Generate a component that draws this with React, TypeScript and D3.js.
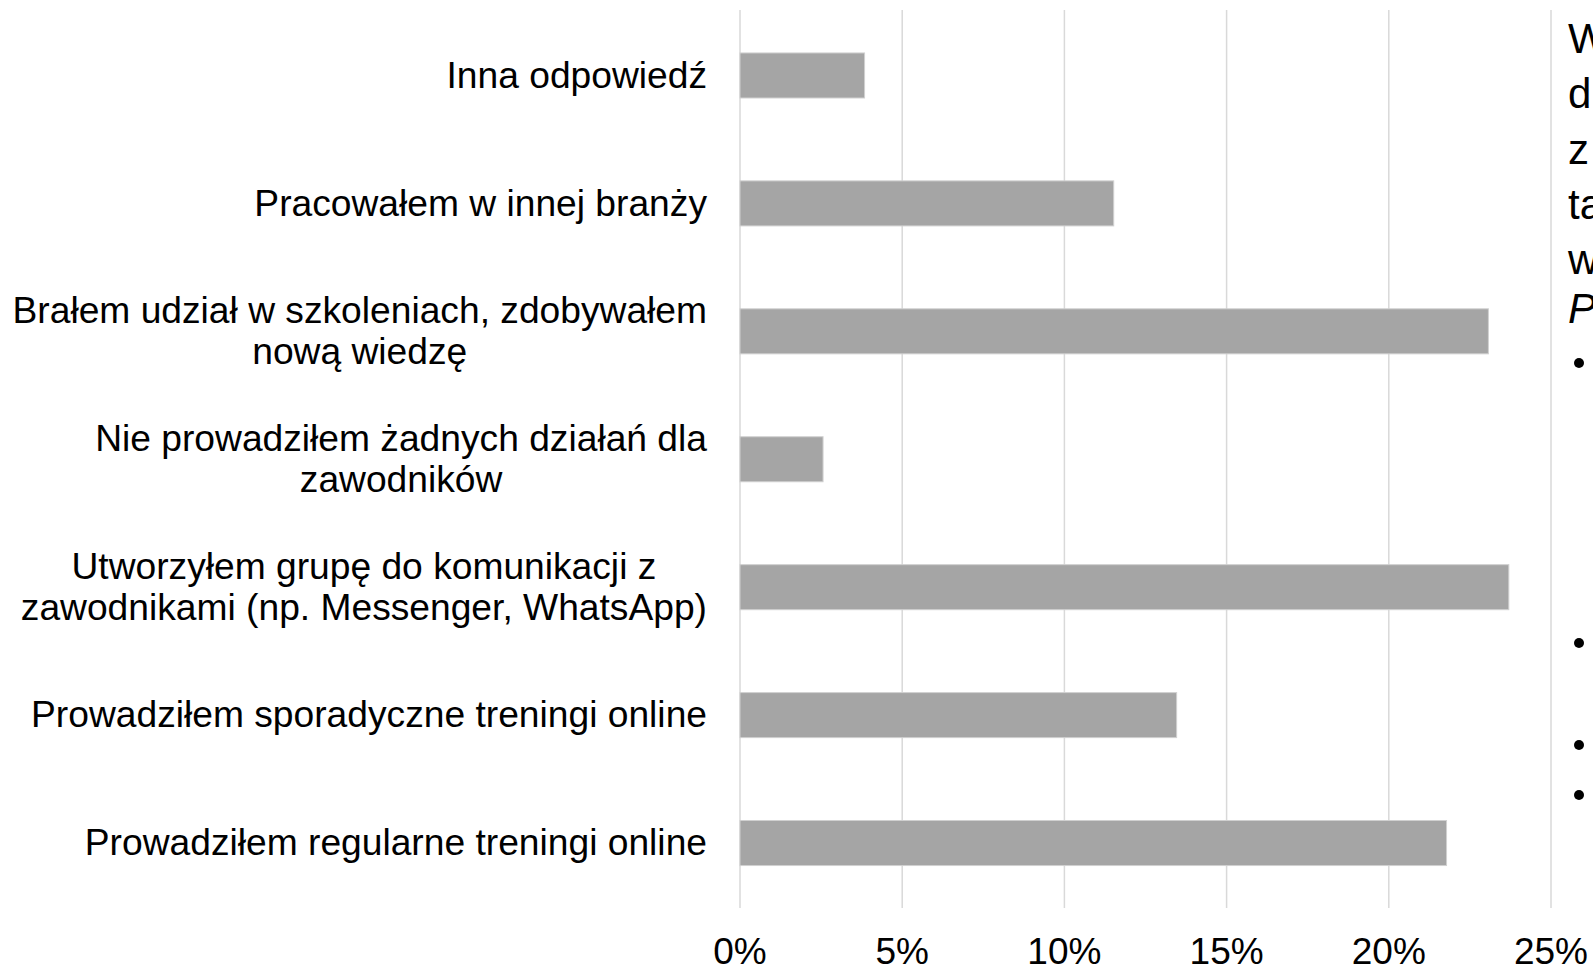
import React from "react";
import * as d3 from "d3";

const categories = [
  ["Inna odpowiedź"],
  ["Pracowałem w innej branży"],
  ["Brałem udział w szkoleniach, zdobywałem", "nową wiedzę"],
  ["Nie prowadziłem żadnych działań dla", "zawodników"],
  ["Utworzyłem grupę do komunikacji z", "zawodnikami (np. Messenger, WhatsApp)"],
  ["Prowadziłem sporadyczne treningi online"],
  ["Prowadziłem regularne treningi online"],
];
const values = [0.0384, 0.1152, 0.2307, 0.0256, 0.237, 0.1346, 0.2178];
const ticks = [0, 0.05, 0.1, 0.15, 0.2, 0.25];
const sideLines = ["W", "d", "z", "ta", "w"];
const sideItalic = "P";
const bulletYs = [363, 643, 745, 795];

const W = 1593;
const H = 968;
const FONT = "'Liberation Sans', Arial, sans-serif";
const LABEL_SIZE = 37.2;

function measure(text: string, size: number): number {
  if (typeof document === "undefined") return text.length * size * 0.5;
  const c = document.createElement("canvas");
  const ctx = c.getContext("2d");
  if (!ctx) return text.length * size * 0.5;
  ctx.font = `${size}px ${FONT}`;
  return ctx.measureText(text).width;
}

export default function App() {
  const x = d3.scaleLinear().domain([0, 0.25]).range([740, 1551]);
  const ids = categories.map((_, i) => String(i));
  const y = d3
    .scaleBand<string>()
    .domain(ids)
    .range([11.5, 907])
    .paddingInner(0.648)
    .paddingOuter(0.324);
  const fmt = d3.format(".0%");
  const labelRight = 707;
  return (
    <svg
      width={W}
      height={H}
      style={{ position: "fixed", left: 0, top: 0, background: "#fff" }}
      fontFamily={FONT}
    >
      <rect x={0} y={0} width={W} height={H} fill="#fff" />
      {ticks.map((t) => (
        <line
          key={"g" + t}
          x1={x(t)}
          x2={x(t)}
          y1={10}
          y2={908}
          stroke="#d9d9d9"
          strokeWidth={1.5}
        />
      ))}
      {values.map((v, i) => (
        <rect
          key={"b" + i}
          x={x(0)}
          y={y(ids[i])!}
          width={x(v) - x(0)}
          height={y.bandwidth()}
          fill="#a5a5a5"
          stroke="#d0d0d0"
          strokeWidth={1}
        />
      ))}
      {categories.map((lines, i) => {
        const cy = y(ids[i])! + y.bandwidth() / 2;
        const lh = 40.6;
        const start = cy - ((lines.length - 1) * lh) / 2;
        const maxW = Math.max(...lines.map((l) => measure(l, LABEL_SIZE)));
        const cx = labelRight - maxW / 2;
        return (
          <text
            key={"l" + i}
            x={cx}
            textAnchor="middle"
            fontSize={LABEL_SIZE}
            fill="#000"
          >
            {lines.map((ln, j) => (
              <tspan key={j} x={cx} y={start + j * lh} dy="0.33em">
                {ln}
              </tspan>
            ))}
          </text>
        );
      })}
      {ticks.map((t) => (
        <text
          key={"t" + t}
          x={x(t)}
          y={964}
          textAnchor="middle"
          fontSize={37}
          fill="#000"
        >
          {fmt(t)}
        </text>
      ))}
      {sideLines.map((s, i) => (
        <text key={"s" + i} x={1568} y={53 + i * 55.3} fontSize={42} fill="#000">
          {s}
        </text>
      ))}
      <text x={1568} y={323} fontSize={42} fontStyle="italic" fill="#000">
        {sideItalic}
      </text>
      {bulletYs.map((by, i) => (
        <circle key={"c" + i} cx={1579} cy={by} r={5} fill="#000" />
      ))}
    </svg>
  );
}
